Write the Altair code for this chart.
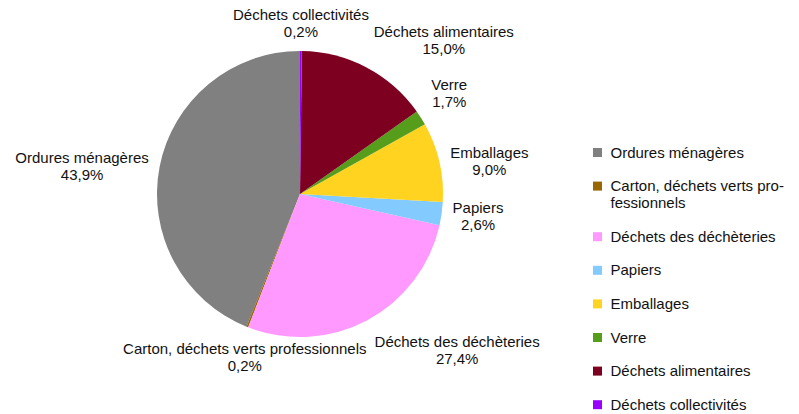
import altair as alt
import pandas as pd

categories = [
    "Ordures ménagères",
    "Carton, déchets verts professionnels",
    "Déchets des déchèteries",
    "Papiers",
    "Emballages",
    "Verre",
    "Déchets alimentaires",
    "Déchets collectivités",
]
values = [43.9, 0.2, 27.4, 2.6, 9.0, 1.7, 15.0, 0.2]
colors = ["#808080", "#996600", "#ff99ff", "#83caff", "#ffd320", "#579d1c", "#7e0021", "#9900ff"]
legend_labels = [
    ["Ordures ménagères"],
    ["Carton, déchets verts pro-", "fessionnels"],
    ["Déchets des déchèteries"],
    ["Papiers"],
    ["Emballages"],
    ["Verre"],
    ["Déchets alimentaires"],
    ["Déchets collectivités"],
]

FONT = "Liberation Sans"
FONT_SIZE = 15

# Arial / Liberation Sans advance widths (per 1000 em) used to centre two-line labels
_ADV = {
    "D": 722, "V": 667, "E": 667, "P": 667, "O": 778, "C": 722,
    "a": 556, "b": 556, "c": 500, "d": 556, "e": 556, "f": 278, "g": 556,
    "h": 556, "i": 222, "l": 222, "m": 833, "n": 556, "o": 556, "p": 556,
    "r": 333, "s": 500, "t": 278, "u": 556, "v": 500, "é": 556, "è": 556,
    " ": 278, ",": 278,
}


def text_width(s):
    return sum(_ADV.get(ch, 556) for ch in s) * FONT_SIZE / 1000.0


df = pd.DataFrame({"cat": categories, "value": values, "idx": list(range(len(categories)))})
df["w"] = [text_width(c) for c in categories]

# legend label expression (multi-line for the long entry)
parts = []
for c, lab in zip(categories, legend_labels):
    if len(lab) > 1:
        arr = "[" + ", ".join("'" + s + "'" for s in lab) + "]"
        parts.append(f"datum.label == '{c}' ? {arr} : ")
label_expr = "".join(parts) + "datum.label"

base = alt.Chart(df).transform_joinaggregate(
    total="sum(value)"
).transform_window(
    cum="sum(value)", sort=[alt.SortField("idx", order="descending")]
).transform_calculate(
    mid="(datum.cum - datum.value / 2) / datum.total * 2 * PI",
    lbl="[datum.cat, replace(format(datum.value, '.1f'), '.', ',') + '%']",
).encode(
    theta=alt.Theta("value:Q", stack=True),
    order=alt.Order("idx:Q", sort="descending"),
)

arcs = base.mark_arc(outerRadius=143).encode(
    color=alt.Color(
        "cat:N",
        scale=alt.Scale(domain=categories, range=colors),
        legend=alt.Legend(
            title=None,
            orient="none",
            legendX=582,
            legendY=137,
            symbolType="square",
            symbolSize=81,
            symbolStrokeWidth=0,
            labelFont=FONT,
            labelFontSize=FONT_SIZE,
            labelColor="#111111",
            labelOffset=5.5,
            labelLimit=400,
            rowPadding=17.6,
            padding=0,
            labelExpr=label_expr,
        ),
    )
)

H_SIDE = "(abs(sin(datum.mid)) < 0.42 ? 0 : (sin(datum.mid) > 0 ? 1 : -1))"
V_ALIGN = "(cos(datum.mid) > 0.4 ? 'bottom' : (cos(datum.mid) < -0.4 ? 'top' : 'middle'))"

labels = base.mark_text(
    radius=150,
    font=FONT,
    fontSize=FONT_SIZE,
    lineHeight=17,
    color="#111111",
    align="center",
    baseline=alt.expr(V_ALIGN),
    dx=alt.expr(f"{H_SIDE} == 1 ? 4 + datum.w / 2 : ({H_SIDE} == -1 ? -4 - datum.w / 2 : 0)"),
    dy=alt.expr(f"{V_ALIGN} == 'bottom' ? -21 : ({V_ALIGN} == 'top' ? 8.5 : -7)"),
).encode(text=alt.Text("lbl:N"))

chart = (arcs + labels).properties(
    width=584,
    height=372,
    autosize=alt.AutoSizeParams(type="none"),
    padding={"left": 0, "top": 0, "right": 199, "bottom": 34},
).configure_view(stroke=None).configure(font=FONT)

chart.save("out.html", embed_options={"renderer": "svg", "actions": False})
